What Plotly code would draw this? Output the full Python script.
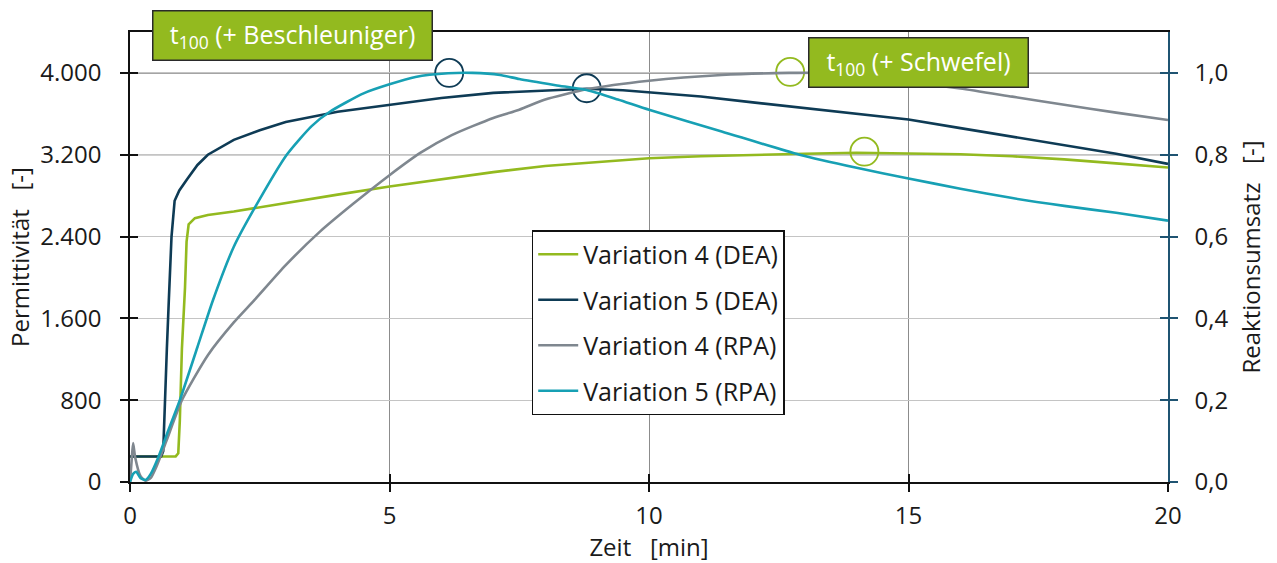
import plotly.graph_objects as go

# ---------------- data ----------------
v4_dea_t = [0, 0.88, 0.93, 0.96, 1.0, 1.06, 1.09, 1.13, 1.25, 1.5, 2, 3, 4, 5, 6, 7, 8, 9, 10, 11, 12, 13, 14, 15, 16, 17, 18, 19, 20]
v4_dea = [250, 250, 280, 600, 1300, 1900, 2350, 2520, 2580, 2610, 2645, 2730, 2810, 2890, 2960, 3030, 3090, 3130, 3165, 3185, 3200, 3210, 3220, 3215, 3205, 3185, 3155, 3115, 3075]

v5_dea_t = [0, 0.6, 0.64, 0.67, 0.71, 0.75, 0.8, 0.86, 0.95, 1.1, 1.3, 1.5, 2, 2.5, 3, 4, 5, 6, 7, 8, 8.8, 9.5, 10, 11, 12, 13, 14, 15, 16, 17, 18, 19, 20]
v5_dea = [250, 250, 300, 800, 1300, 1800, 2400, 2750, 2850, 2960, 3100, 3200, 3345, 3440, 3520, 3620, 3690, 3755, 3805, 3830, 3845, 3830, 3812, 3770, 3712, 3655, 3605, 3545, 3460, 3375, 3295, 3210, 3110]

v4_rpa_t = [0, 0.03, 0.06, 0.1, 0.2, 0.3, 0.4, 0.5, 0.7, 1.0, 1.5, 2, 2.4, 3, 3.66, 4.3, 5, 5.6, 6.2, 7, 7.5, 8, 8.8, 10, 11.4, 12.7, 13.5, 14, 15, 16, 17, 18, 19, 20]
v4_rpa = [0.0, 0.05, 0.095, 0.06, 0.015, 0.003, 0.01, 0.035, 0.1, 0.2, 0.31, 0.39, 0.445, 0.53, 0.612, 0.68, 0.75, 0.805, 0.848, 0.89, 0.91, 0.935, 0.96, 0.981, 0.995, 1.0, 1.0, 0.995, 0.978, 0.962, 0.942, 0.922, 0.903, 0.885]

v5_rpa_t = [0, 0.06, 0.12, 0.2, 0.3, 0.4, 0.55, 0.75, 0.96, 1.3, 1.6, 2, 2.38, 3.02, 3.5, 3.85, 4.5, 5, 5.5, 6.13, 6.6, 7.13, 7.5, 8.2, 8.8, 9.4, 10, 11.4, 12.9, 14, 15, 16, 17, 18, 19, 20]
v5_rpa = [0.0, 0.02, 0.025, 0.01, 0.005, 0.02, 0.062, 0.13, 0.2, 0.33, 0.445, 0.575, 0.665, 0.80, 0.87, 0.905, 0.95, 0.972, 0.99, 0.999, 1.0, 0.995, 0.985, 0.97, 0.958, 0.935, 0.91, 0.857, 0.80, 0.768, 0.742, 0.717, 0.694, 0.675, 0.658, 0.639]

series_names = ["Variation 4 (DEA)", "Variation 5 (DEA)", "Variation 4 (RPA)", "Variation 5 (RPA)"]

# t100 markers (circles)
t100_navy_t = [6.15, 8.8]
t100_navy_v = [4000, 3850]
t100_green_t = [12.72, 14.15]
t100_green_v = [4010, 3230]

x_ticks = [0, 5, 10, 15, 20]
y_left_ticks = [0, 800, 1600, 2400, 3200, 4000]
y_left_labels = ["0", "800", "1.600", "2.400", "3.200", "4.000"]
y_right_ticks = [0, 0.2, 0.4, 0.6, 0.8, 1.0]
y_right_labels = ["0,0", "0,2", "0,4", "0,6", "0,8", "1,0"]
ref_levels = [3200, 4000]

box_labels = ["t<sub>100</sub> (+ Beschleuniger)", "t<sub>100</sub> (+ Schwefel)"]

# ---------------- style ----------------
C_GREEN = "#93BA1F"
C_NAVY = "#0E3B55"
C_GRAY = "#7F878F"
C_TEAL = "#17A0B4"
C_RAXIS = "#1F5472"
TXT = "#1a1a1a"
FONT = "Open Sans"

fig = go.Figure()

for lv in ref_levels:
    fig.add_shape(type="line", xref="paper", x0=0, x1=1, yref="y", y0=lv, y1=lv,
                  line=dict(color="#4a4a4a", width=1.2), layer="below")

fig.add_trace(go.Scatter(x=v4_dea_t, y=v4_dea, name=series_names[0], mode="lines",
                         line=dict(color=C_GREEN, width=2.6), legendgroup="a"))
fig.add_trace(go.Scatter(x=v5_dea_t, y=v5_dea, name=series_names[1], mode="lines",
                         line=dict(color=C_NAVY, width=2.6), legendgroup="b"))
fig.add_trace(go.Scatter(x=v4_rpa_t, y=v4_rpa, name=series_names[2], mode="lines",
                         line=dict(color=C_GRAY, width=2.6, shape="spline", smoothing=0.6),
                         yaxis="y2", legendgroup="c"))
fig.add_trace(go.Scatter(x=v5_rpa_t, y=v5_rpa, name=series_names[3], mode="lines",
                         line=dict(color=C_TEAL, width=2.6, shape="spline", smoothing=0.6),
                         yaxis="y2", legendgroup="d"))

fig.add_trace(go.Scatter(x=t100_navy_t, y=t100_navy_v, mode="markers", showlegend=False,
                         marker=dict(symbol="circle-open", size=28, color=C_NAVY, line=dict(width=1.8))))
fig.add_trace(go.Scatter(x=t100_green_t, y=t100_green_v, mode="markers", showlegend=False,
                         marker=dict(symbol="circle-open", size=28, color=C_GREEN, line=dict(width=1.8))))

fig.add_trace(go.Scatter(x=[None], y=[None], xaxis="x2", yaxis="y3", showlegend=False, mode="lines"))
fig.add_trace(go.Scatter(x=[None], y=[None], xaxis="x2", yaxis="y4", showlegend=False, mode="lines"))

tickfont = dict(family=FONT, size=24, color=TXT)
titlefont = dict(family=FONT, size=24, color=TXT)

fig.update_layout(
    width=1277, height=563,
    margin=dict(l=130, r=109, t=32, b=81),
    paper_bgcolor="white", plot_bgcolor="white",
    font=dict(family=FONT, color=TXT),
    showlegend=True,
    legend=dict(x=0.387, xanchor="left", y=0.56, yanchor="top",
                bgcolor="white", bordercolor="#111", borderwidth=1.5,
                font=dict(family=FONT, size=25, color=TXT),
                traceorder="grouped", tracegroupgap=10,
                itemwidth=40),
    xaxis=dict(range=[0, 20], tickvals=x_ticks, ticks="outside", ticklen=8, tickwidth=1.5,
               tickcolor="#111", showline=True, linecolor="#111", linewidth=2, mirror=True,
               showgrid=True, gridcolor="#8c8c8c", gridwidth=1, zeroline=False,
               tickfont=tickfont, ticklabelstandoff=3,
               title=dict(text="Zeit   [min]", font=titlefont, standoff=0)),
    yaxis=dict(range=[0, 4400], tickvals=y_left_ticks, ticktext=y_left_labels, ticks="outside",
               ticklen=8, tickwidth=1.5, tickcolor="#111", showline=True, linecolor="#111",
               linewidth=1.5, showgrid=True, gridcolor="#c4c4c4", gridwidth=1, zeroline=False,
               tickfont=tickfont, ticklabelstandoff=14,
               title=dict(text="Permittivität   [-]", font=titlefont, standoff=4)),
    yaxis2=dict(range=[0, 1.1], overlaying="y", side="right", tickvals=y_right_ticks,
                ticktext=y_right_labels, ticks="outside", ticklen=8, tickwidth=1.5,
                tickcolor=C_RAXIS, showline=True, linecolor=C_RAXIS, linewidth=1.5,
                showgrid=False, zeroline=False, tickfont=tickfont, ticklabelstandoff=12,
                title=dict(text="Reaktionsumsatz   [-]", font=titlefont, standoff=16)),
    xaxis2=dict(range=[0, 20], overlaying="x", anchor="y3", tickvals=x_ticks, ticks="inside", ticklen=8,
                tickwidth=1.5, tickcolor="#111", showticklabels=False, showgrid=False,
                zeroline=False, showline=False),
    yaxis3=dict(range=[0, 4400], overlaying="y", anchor="x2", side="left", tickvals=y_left_ticks,
                ticks="inside", ticklen=8, tickwidth=1.5, tickcolor="#111", showticklabels=False,
                showgrid=False, zeroline=False, showline=False),
    yaxis4=dict(range=[0, 1.1], overlaying="y", anchor="x2", side="right", tickvals=y_right_ticks,
                ticks="inside", ticklen=8, tickwidth=1.5, tickcolor=C_RAXIS, showticklabels=False,
                showgrid=False, zeroline=False, showline=False),
)

box_pos = [(0.157, 0.993, 276), (0.760, 0.933, 216)]
for lbl, (bx, by, bw) in zip(box_labels, box_pos):
    fig.add_annotation(xref="paper", yref="paper", x=bx, y=by, xanchor="center", yanchor="middle",
                       text=lbl, showarrow=False, bgcolor=C_GREEN, bordercolor="#2a2a2a",
                       borderwidth=1.5, borderpad=1, width=bw, height=46,
                       font=dict(family=FONT, size=25, color="white"))

fig.write_html("out.html")
